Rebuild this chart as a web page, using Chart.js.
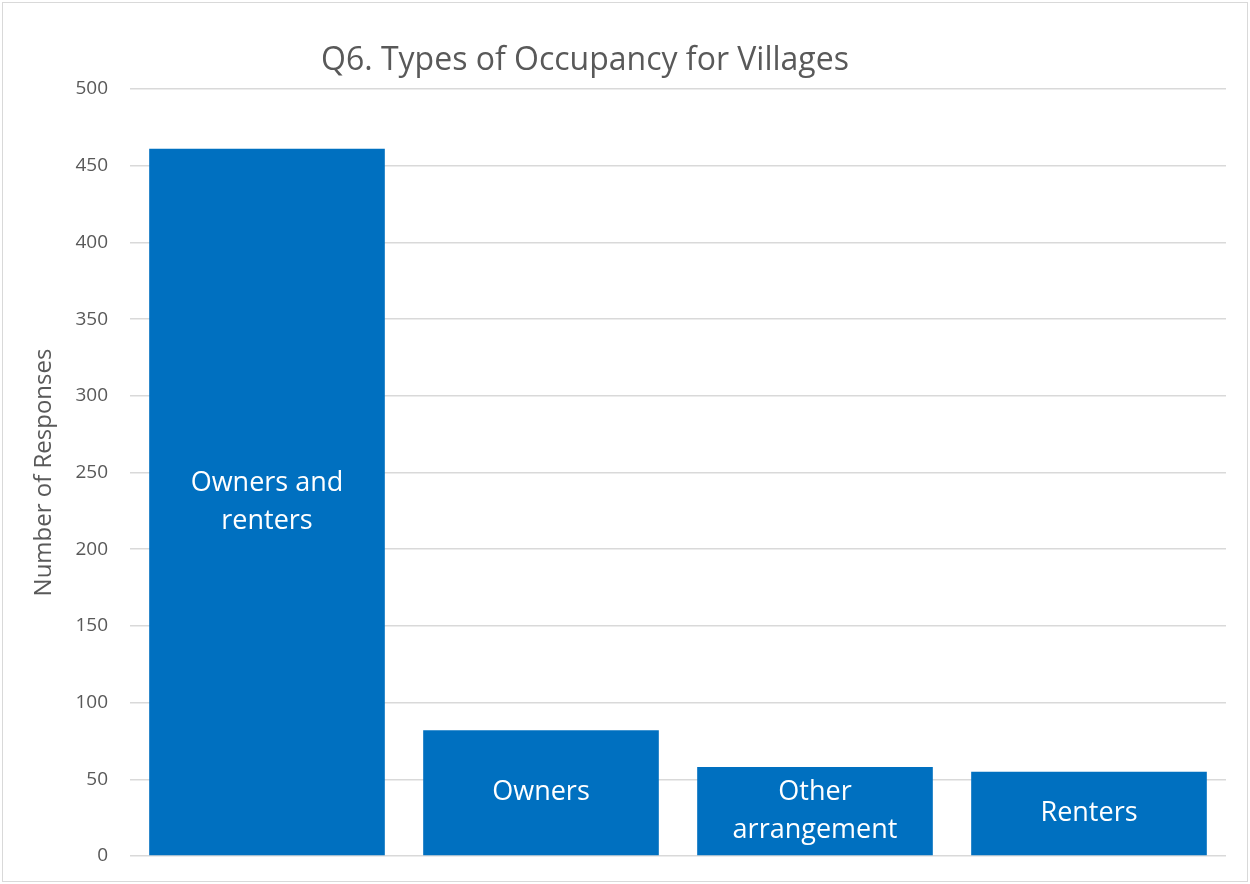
<!DOCTYPE html>
<html>
<head>
<meta charset="utf-8">
<script src="https://cdn.jsdelivr.net/npm/chart.js@4/dist/chart.umd.min.js"></script>
<style>
  html, body { margin: 0; padding: 0; background: #fff; }
  #wrap { width: 1250px; height: 884px; position: relative; }
  #frame { position: absolute; left: 2px; top: 2px; width: 1244px; height: 878px; border: 1px solid #d9d9d9; pointer-events: none; }
</style>
</head>
<body>
<div id="wrap">
  <canvas id="chart" width="1250" height="884"></canvas>
  <div id="frame"></div>
</div>
<script>
// chart data
const categories = [['Owners and', 'renters'], ['Owners'], ['Other', 'arrangement'], ['Renters']];
const responses = [461, 82, 58, 55];
const titleText = 'Q6. Types of Occupancy for Villages';
const yTitle = 'Number of Responses';

const textColor = '#595959';
const fontFamily = '"Open Sans", "Noto Sans", sans-serif';

// draws the category names inside each bar
const barLabels = {
    id: 'barLabels',
    afterDatasetsDraw(c) {
        const ctx = c.ctx;
        const meta = c.getDatasetMeta(0);
        ctx.save();
        ctx.fillStyle = '#ffffff';
        ctx.font = '27px ' + fontFamily;
        ctx.textAlign = 'center';
        ctx.textBaseline = 'middle';
        const lh = 38;
        meta.data.forEach((bar, i) => {
            const lines = categories[i];
            const mid = (bar.y + bar.base) / 2;
            const start = mid - (lines.length - 1) * lh / 2;
            lines.forEach((l, j) => ctx.fillText(l, bar.x, start + j * lh));
        });
        ctx.restore();
    }
};

// title slightly left of centre, as in the original
const topTitle = {
    id: 'topTitle',
    afterDraw(c) {
        const ctx = c.ctx;
        ctx.save();
        ctx.fillStyle = textColor;
        ctx.font = '32px ' + fontFamily;
        ctx.textAlign = 'center';
        ctx.textBaseline = 'middle';
        ctx.fillText(titleText, 585, 61);
        ctx.restore();
    }
};

new Chart(document.getElementById('chart'), {
    type: 'bar',
    data: {
        labels: categories.map(c => c.join(' ')),
        datasets: [{
            data: responses,
            backgroundColor: '#0070c0',
            borderWidth: 0,
            categoryPercentage: 1,
            barPercentage: 0.86
        }]
    },
    options: {
        responsive: false,
        animation: false,
        layout: { padding: { top: 89, right: 24, bottom: 28, left: 30 } },
        plugins: {
            legend: { display: false },
            title: { display: false },
            tooltip: { enabled: false }
        },
        scales: {
            x: { display: false },
            y: {
                min: 0,
                max: 500,
                afterFit(scale) {
                    scale.width = 100;
                    scale.paddingTop = 0;
                    scale.paddingBottom = 0;
                },
                ticks: {
                    stepSize: 50,
                    color: textColor,
                    font: { size: 19, family: fontFamily },
                    padding: 22
                },
                grid: { color: '#d9d9d9', lineWidth: 1.5, drawTicks: false },
                border: { display: false },
                title: {
                    display: true,
                    text: yTitle,
                    color: textColor,
                    font: { size: 24, family: fontFamily },
                    padding: { top: 0, bottom: 14 }
                }
            }
        }
    },
    plugins: [barLabels, topTitle]
});
</script>
</body>
</html>
